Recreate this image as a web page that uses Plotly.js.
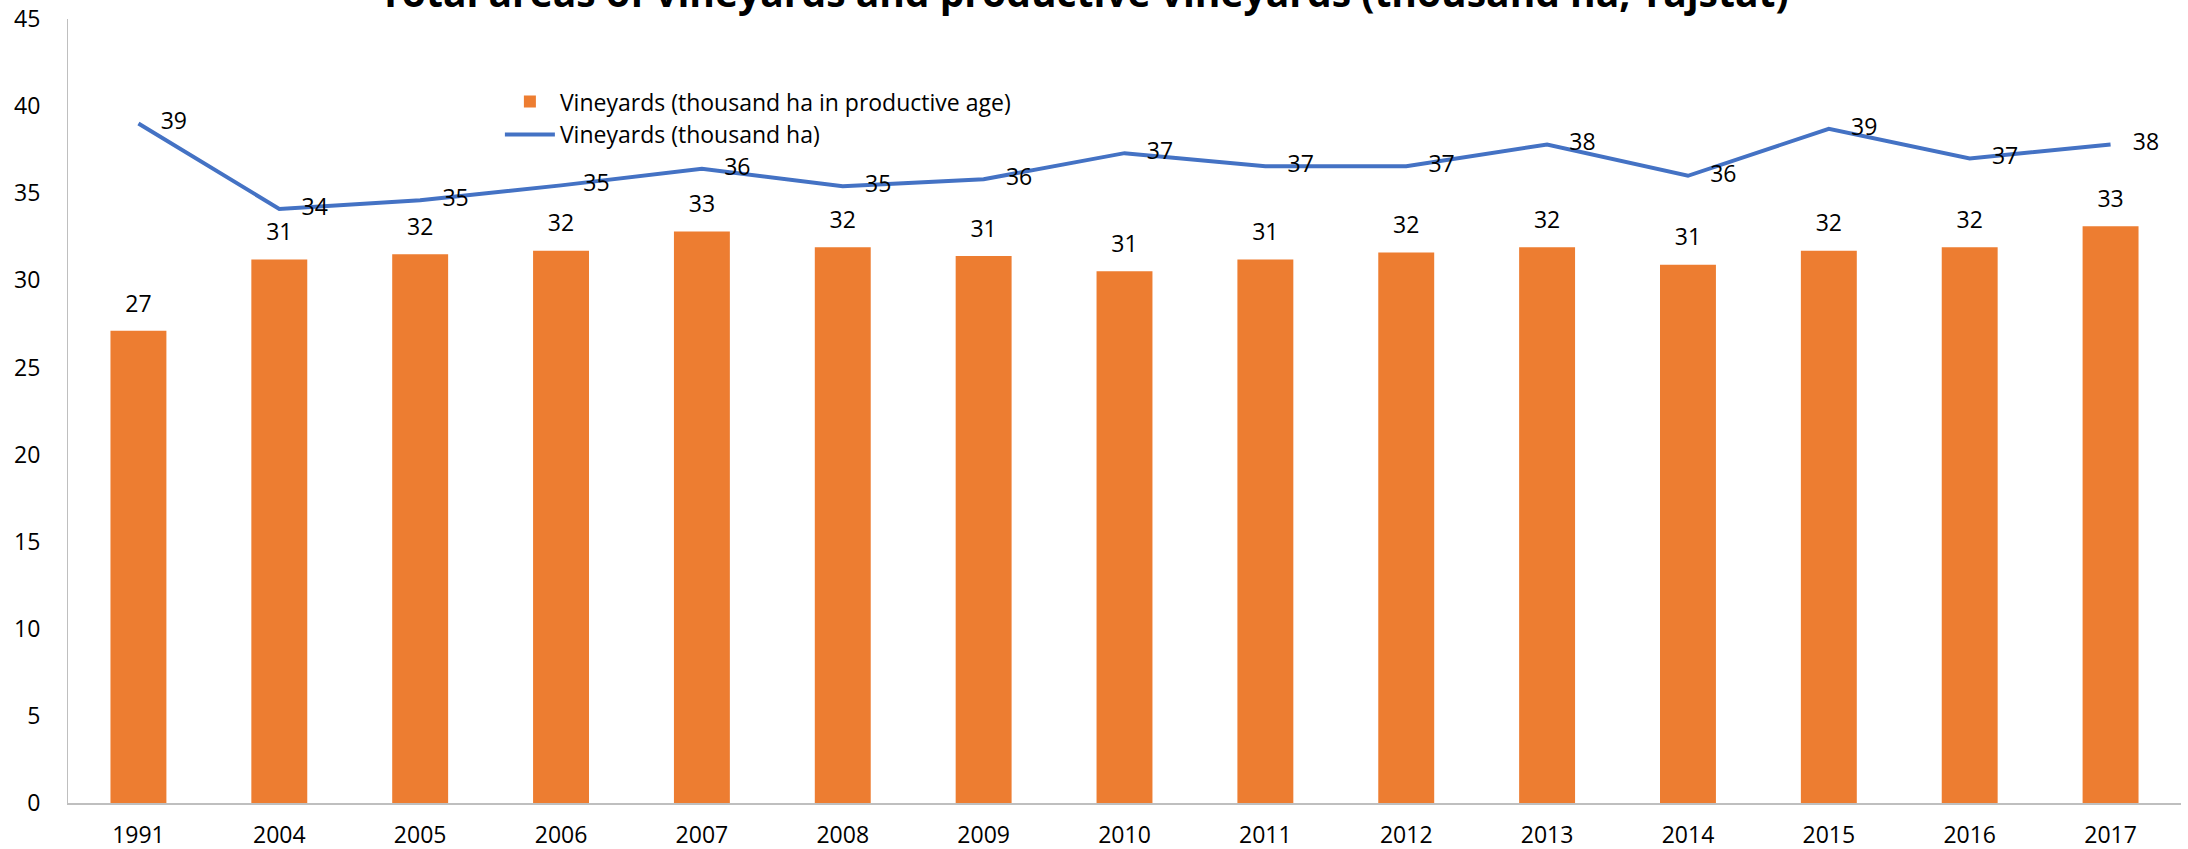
<!DOCTYPE html>
<html>
<head>
<meta charset="utf-8">
<script src="https://cdn.plot.ly/plotly-3.0.1.min.js"></script>
<style>
  html, body { margin: 0; padding: 0; background: #ffffff; }
  #chart { width: 2188px; height: 849px; }
</style>
</head>
<body>
<div id="chart"></div>
<script>
const years = ["1991","2004","2005","2006","2007","2008","2009","2010","2011","2012","2013","2014","2015","2016","2017"];
const productiveVineyards = [27.1, 31.2, 31.5, 31.7, 32.8, 31.9, 31.4, 30.52, 31.2, 31.6, 31.9, 30.9, 31.7, 31.9, 33.1];
const totalVineyards = [39.0, 34.1, 34.6, 35.45, 36.4, 35.4, 35.8, 37.3, 36.55, 36.55, 37.8, 36.0, 38.7, 37.0, 37.8];
const seriesNames = ["Vineyards (thousand ha in productive age)", "Vineyards (thousand ha)"];
const chartTitle = "Total areas of vineyards and productive vineyards (thousand ha, Tajstat)";

const FONT = "Open Sans, sans-serif";

const barTrace = {
  type: "bar",
  x: years,
  y: productiveVineyards,
  name: seriesNames[0],
  marker: { color: "#ED7D31" },
  hoverinfo: "x+y"
};

const barLabels = {
  type: "scatter",
  mode: "markers+text",
  x: years,
  y: productiveVineyards,
  texttemplate: "%{y:.0f}",
  textposition: "top center",
  textfont: { family: FONT, size: 23, color: "#000000" },
  marker: { size: 20, color: "rgba(0,0,0,0)" },
  showlegend: false,
  cliponaxis: false,
  hoverinfo: "skip"
};

const lineTrace = {
  type: "scatter",
  mode: "lines+markers+text",
  x: years,
  y: totalVineyards,
  name: seriesNames[1],
  line: { color: "#4472C4", width: 4 },
  marker: { size: 34, color: "rgba(0,0,0,0)" },
  texttemplate: "%{y:.0f}",
  textposition: "middle right",
  textfont: { family: FONT, size: 23, color: "#000000" },
  cliponaxis: false
};

const layout = {
  width: 2188,
  height: 849,
  paper_bgcolor: "#ffffff",
  plot_bgcolor: "#ffffff",
  margin: { l: 68, r: 7, t: 19, b: 46 },
  font: { family: FONT, size: 23, color: "#000000" },
  title: {
    text: "<b>" + chartTitle + "</b>",
    font: { family: FONT, size: 39, color: "#000000" },
    xref: "paper",
    x: 0.4808,
    xanchor: "center",
    yref: "container",
    y: 0.9918,
    yanchor: "bottom"
  },
  bargap: 0.603,
  showlegend: true,
  legend: {
    x: 0.2044,
    y: 0.922,
    xanchor: "left",
    yanchor: "top",
    bgcolor: "rgba(0,0,0,0)",
    itemwidth: 50,
    font: { family: FONT, size: 23, color: "#000000" }
  },
  xaxis: {
    type: "category",
    range: [-0.5, years.length - 0.5],
    autorange: false,
    showgrid: false,
    zeroline: false,
    showline: true,
    linecolor: "#bfbfbf",
    linewidth: 1.5,
    ticks: "",
    ticklabelstandoff: 11,
    tickfont: { family: FONT, size: 23, color: "#000000" }
  },
  yaxis: {
    range: [0, 45],
    autorange: false,
    dtick: 5,
    tick0: 0,
    showgrid: false,
    zeroline: false,
    showline: true,
    linecolor: "#bfbfbf",
    linewidth: 1,
    ticks: "",
    ticklabelstandoff: 22,
    tickfont: { family: FONT, size: 23, color: "#000000" }
  }
};

Plotly.newPlot("chart", [barTrace, barLabels, lineTrace], layout, { displayModeBar: false, staticPlot: true });
</script>
</body>
</html>
